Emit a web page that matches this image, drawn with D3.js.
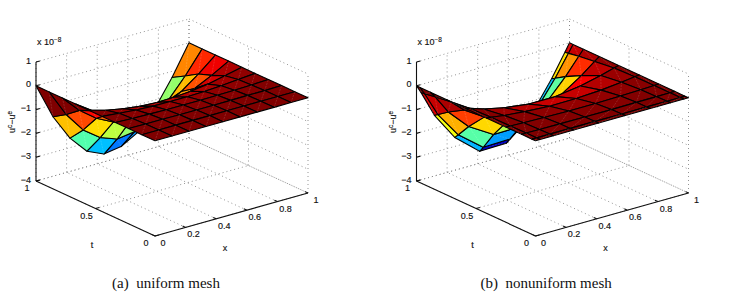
<!DOCTYPE html>
<html>
<head>
<meta charset="utf-8">
<script src="https://cdn.jsdelivr.net/npm/d3@7"></script>
<style>
body { margin: 0; background: #fff; }
text { font-family: "Liberation Sans", sans-serif; fill: #111; stroke: #111; stroke-width: 0.15px; }
.caption { font-family: "Liberation Serif", serif; font-size: 15px; stroke: none; }
</style>
</head>
<body>
<svg id="chart"></svg>
<script>
var width = 731, height = 300;

// mesh nodes
var uniformX = [0, 0.111, 0.222, 0.333, 0.444, 0.556, 0.667, 0.778, 0.889, 1];
var uniformT = [0, 0.111, 0.222, 0.333, 0.444, 0.556, 0.667, 0.778, 0.889, 1];
var nonuniformX = [0, 0.03, 0.117, 0.25, 0.413, 0.587, 0.75, 0.883, 0.97, 1];
var nonuniformT = [0, 0.03, 0.117, 0.25, 0.413, 0.587, 0.75, 0.883, 0.97, 1];

// error values (x 10^-8), one row per t node
var uniformZ = [
  [0, 0, 0, 0, 0, 0, 0, 0, 0, 0],
  [0, 0, 0, 0, 0, 0, 0, 0, 0, 0],
  [0, -0.01, -0.01, -0.02, -0.02, -0.02, -0.02, -0.01, -0.01, 0],
  [0, -0.03, -0.05, -0.07, -0.07, -0.07, -0.06, -0.05, -0.03, 0],
  [0, -0.07, -0.13, -0.17, -0.18, -0.18, -0.16, -0.12, -0.06, 0],
  [0, -0.2, -0.34, -0.44, -0.48, -0.46, -0.41, -0.31, -0.16, 0],
  [0, -0.48, -0.83, -1.07, -1.17, -1.14, -1.01, -0.75, -0.4, 0],
  [0, -0.72, -1.25, -1.61, -1.76, -1.71, -1.51, -1.13, -0.6, 0],
  [0, -1.15, -2.0, -2.52, -2.78, -2.68, -2.36, -1.76, -0.94, 0],
  [0, -1.5, -2.6, -3.35, -3.67, -3.56, -3.15, -2.35, -1.26, 0]
];
var nonuniformZ = [
  [0, 0, 0, 0, 0, 0, 0, 0, 0, 0],
  [0, 0, 0, 0, 0, 0, 0, 0, 0, 0],
  [0, 0, -0.01, -0.01, -0.02, -0.02, -0.01, -0.01, 0, 0],
  [0, -0.01, -0.03, -0.05, -0.07, -0.07, -0.05, -0.03, -0.01, 0],
  [0, -0.02, -0.1, -0.18, -0.25, -0.24, -0.18, -0.09, -0.02, 0],
  [0, -0.05, -0.23, -0.42, -0.56, -0.56, -0.41, -0.21, -0.05, 0],
  [0, -0.15, -0.65, -1.18, -1.58, -1.56, -1.16, -0.59, -0.15, 0],
  [0, -0.24, -1.04, -1.89, -2.52, -2.5, -1.86, -0.94, -0.24, 0],
  [0, -0.32, -1.35, -2.44, -3.26, -3.23, -2.4, -1.21, -0.32, 0],
  [0, -0.34, -1.45, -2.62, -3.5, -3.47, -2.58, -1.3, -0.34, 0]
];

// tick labels
var xTicks = [0, 0.2, 0.4, 0.6, 0.8, 1];
var tTicks = [0, 0.5, 1];
var zTicks = [-4, -3, -2, -1, 0, 1];
var captions = ["(a)  uniform mesh", "(b)  nonuniform mesh"];

// oblique 3d axes, all pixel offsets from the (0,0,-4) corner
var xToSx = d3.scaleLinear().domain([0, 1]).range([0, 153]);
var xToSy = d3.scaleLinear().domain([0, 1]).range([0, -43]);
var tToSx = d3.scaleLinear().domain([0, 1]).range([0, -119]);
var tToSy = d3.scaleLinear().domain([0, 1]).range([0, -55]);
var zToSy = d3.scaleLinear().domain([-4, 1]).range([0, -119]);

function project(x, t, z) {
  return [xToSx(x) + tToSx(t), xToSy(x) + tToSy(t) + zToSy(z)];
}

var jet = d3.scaleLinear()
    .domain([0, 0.125, 0.375, 0.625, 0.875, 1])
    .range(["#00008f", "#0000ff", "#00ffff", "#ffff00", "#ff0000", "#800000"])
    .clamp(true);

var line = d3.line();

var svg = d3.select("#chart")
    .attr("width", width)
    .attr("height", height);

function seg(g, a, b) {
  var p = project(a[0], a[1], a[2]), q = project(b[0], b[1], b[2]);
  return g.append("path").attr("d", line([p, q]));
}

function grid(g) {
  var gg = g.append("g")
      .attr("fill", "none")
      .attr("stroke", "#888")
      .attr("stroke-width", 0.9)
      .attr("stroke-dasharray", "1 3");
  xTicks.forEach(function(x) {
    seg(gg, [x, 0, -4], [x, 1, -4]);
    seg(gg, [x, 1, -4], [x, 1, 1]);
  });
  tTicks.forEach(function(t) {
    seg(gg, [0, t, -4], [1, t, -4]);
    seg(gg, [1, t, -4], [1, t, 1]);
  });
  zTicks.forEach(function(z) {
    seg(gg, [0, 1, z], [1, 1, z]);
    seg(gg, [1, 1, z], [1, 0, z]);
  });
}

function surface(g, xs, ts, zs) {
  var zmin = d3.min(zs, function(r) { return d3.min(r); });
  var zmax = d3.max(zs, function(r) { return d3.max(r); });
  var frac = d3.scaleLinear().domain([zmin, zmax]).range([0, 1]);

  var cells = [];
  d3.range(ts.length - 1).forEach(function(j) {
    d3.range(xs.length - 1).forEach(function(i) {
      cells.push({
        corners: [
          project(xs[i], ts[j], zs[j][i]),
          project(xs[i + 1], ts[j], zs[j][i + 1]),
          project(xs[i + 1], ts[j + 1], zs[j + 1][i + 1]),
          project(xs[i], ts[j + 1], zs[j + 1][i])
        ],
        color: jet(frac(zs[j][i])),
        depth: 119 * (xs[i] + xs[i + 1]) + 153 * (ts[j] + ts[j + 1])
      });
    });
  });
  // painter's order, far corner first
  cells.sort(function(a, b) { return b.depth - a.depth; });

  var cell = g.append("g").selectAll("g")
      .data(cells)
      .enter()
      .append("g");
  cell.append("path")
      .attr("d", function(d) { return line(d.corners) + "Z"; })
      .attr("fill", function(d) { return d.color; })
      .attr("stroke", "#000")
      .attr("stroke-width", 1.1)
      .attr("stroke-linejoin", "round");
  // pale seam across each quad
  cell.append("path")
      .attr("d", function(d) { return line([d.corners[0], d.corners[2]]); })
      .attr("stroke", "#fff")
      .attr("stroke-opacity", 0.2)
      .attr("stroke-width", 0.7)
      .attr("stroke-dasharray", "2 1");
}

function axes(g) {
  var ax = g.append("g")
      .attr("fill", "none")
      .attr("stroke", "#111")
      .attr("stroke-width", 1.1);
  seg(ax, [0, 0, -4], [1, 0, -4]);
  seg(ax, [0, 0, -4], [0, 1, -4]);
  seg(ax, [0, 1, -4], [0, 1, 1]);
  xTicks.forEach(function(x) { seg(ax, [x, 0, -4], [x, 0.025, -4]); });
  tTicks.forEach(function(t) { seg(ax, [0, t, -4], [0.025, t, -4]); });
  zTicks.forEach(function(z) { seg(ax, [0, 1, z], [0.025, 1, z]); });

  // tick labels sit just below their tick
  xTicks.forEach(function(x) {
    var p = project(x, 0, -4);
    g.append("text").attr("x", p[0] + 8).attr("y", p[1] + 10)
        .attr("font-size", 9).attr("text-anchor", "middle")
        .text(x);
  });
  tTicks.forEach(function(t) {
    var p = project(0, t, -4);
    g.append("text").attr("x", p[0] - 9).attr("y", p[1] + 10)
        .attr("font-size", 9).attr("text-anchor", "middle")
        .text(t);
  });
  zTicks.forEach(function(z) {
    var p = project(0, 1, z);
    g.append("text").attr("x", p[0] - 5).attr("y", p[1] + 1.5)
        .attr("font-size", 9).attr("text-anchor", "end")
        .text(String(z).replace("-", "\u2212"));
  });

  var o = project(0, 0, -4);
  g.append("text").attr("x", o[0] + 70).attr("y", o[1] + 15)
      .attr("font-size", 9).attr("text-anchor", "middle").text("x");
  g.append("text").attr("x", o[0] - 63).attr("y", o[1] + 12)
      .attr("font-size", 9).attr("text-anchor", "middle").text("t");

  var top = project(0, 1, 1);
  var mult = g.append("text").attr("x", top[0] + 1).attr("y", top[1] - 17)
      .attr("font-size", 9).text("x 10");
  mult.append("tspan").attr("dy", -3).attr("font-size", 6.5).text("\u22128");

  var lab = g.append("text")
      .attr("transform", "translate(" + (top[0] - 21) + "," + (top[1] + 60) + ") rotate(-90)")
      .attr("font-size", 9).attr("text-anchor", "middle");
  lab.append("tspan").text("u");
  lab.append("tspan").attr("dy", -3).attr("font-size", 6.5).text("c");
  lab.append("tspan").attr("dy", 3).text("\u2212u");
  lab.append("tspan").attr("dy", -3).attr("font-size", 6.5).text("e");
}

function panel(originX, xs, ts, zs, caption, captionX) {
  var g = svg.append("g")
      .attr("transform", "translate(" + originX + ",236)");
  grid(g);
  surface(g, xs, ts, zs);
  axes(g);
  svg.append("text")
      .attr("class", "caption")
      .attr("x", captionX)
      .attr("y", 288)
      .style("white-space", "pre")
      .text(caption);
}

panel(155, uniformX, uniformT, uniformZ, captions[0], 112);
panel(535.5, nonuniformX, nonuniformT, nonuniformZ, captions[1], 480.5);
</script>
</body>
</html>
